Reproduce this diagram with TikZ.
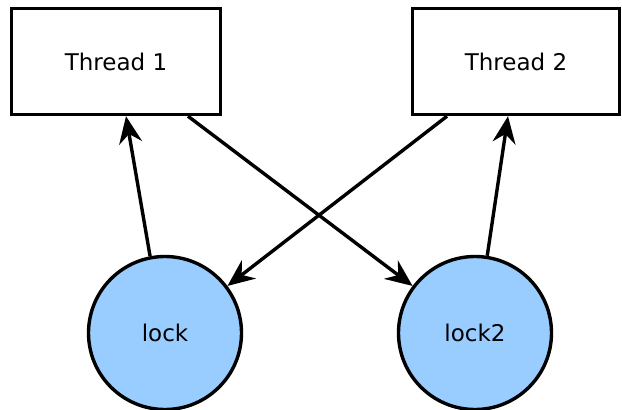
\documentclass[tikz,border=0pt]{standalone}
\usepackage{fontspec}
\setmainfont{DejaVu Sans}
\usetikzlibrary{arrows.meta}
\definecolor{lockblue}{RGB}{153,204,255}
\begin{document}
\begin{tikzpicture}[x=1pt,y=-1pt,
  thread/.style={draw,line width=3.4pt,fill=white,minimum width=209pt,minimum height=106pt,inner sep=0pt,font=\fontsize{23}{27}\selectfont},
  lockn/.style={draw,circle,line width=3.4pt,fill=lockblue,minimum size=153pt,inner sep=0pt,font=\fontsize{23}{27}\selectfont},
  conn/.style={line width=3.4pt,-{Stealth[length=27pt,width=23pt,inset=9pt]}}]
\useasboundingbox (0,0) rectangle (622,410);
\node[thread] (t1) at (116,61.5) {Thread 1};
\node[thread,minimum width=207pt] (t2) at (516,61.5) {Thread 2};
\node[lockn] (l1) at (165,333) {lock};
\node[lockn] (l2) at (475,333) {lock2};
\draw[conn] (l1.101) -- ([xshift=10pt]t1.south);
\draw[conn] ([xshift=72pt]t1.south) -- (l2.143);
\draw[conn] ([xshift=-69pt]t2.south) -- (l1.37);
\draw[conn] (l2.81) -- ([xshift=-8pt]t2.south);
\end{tikzpicture}
\end{document}
